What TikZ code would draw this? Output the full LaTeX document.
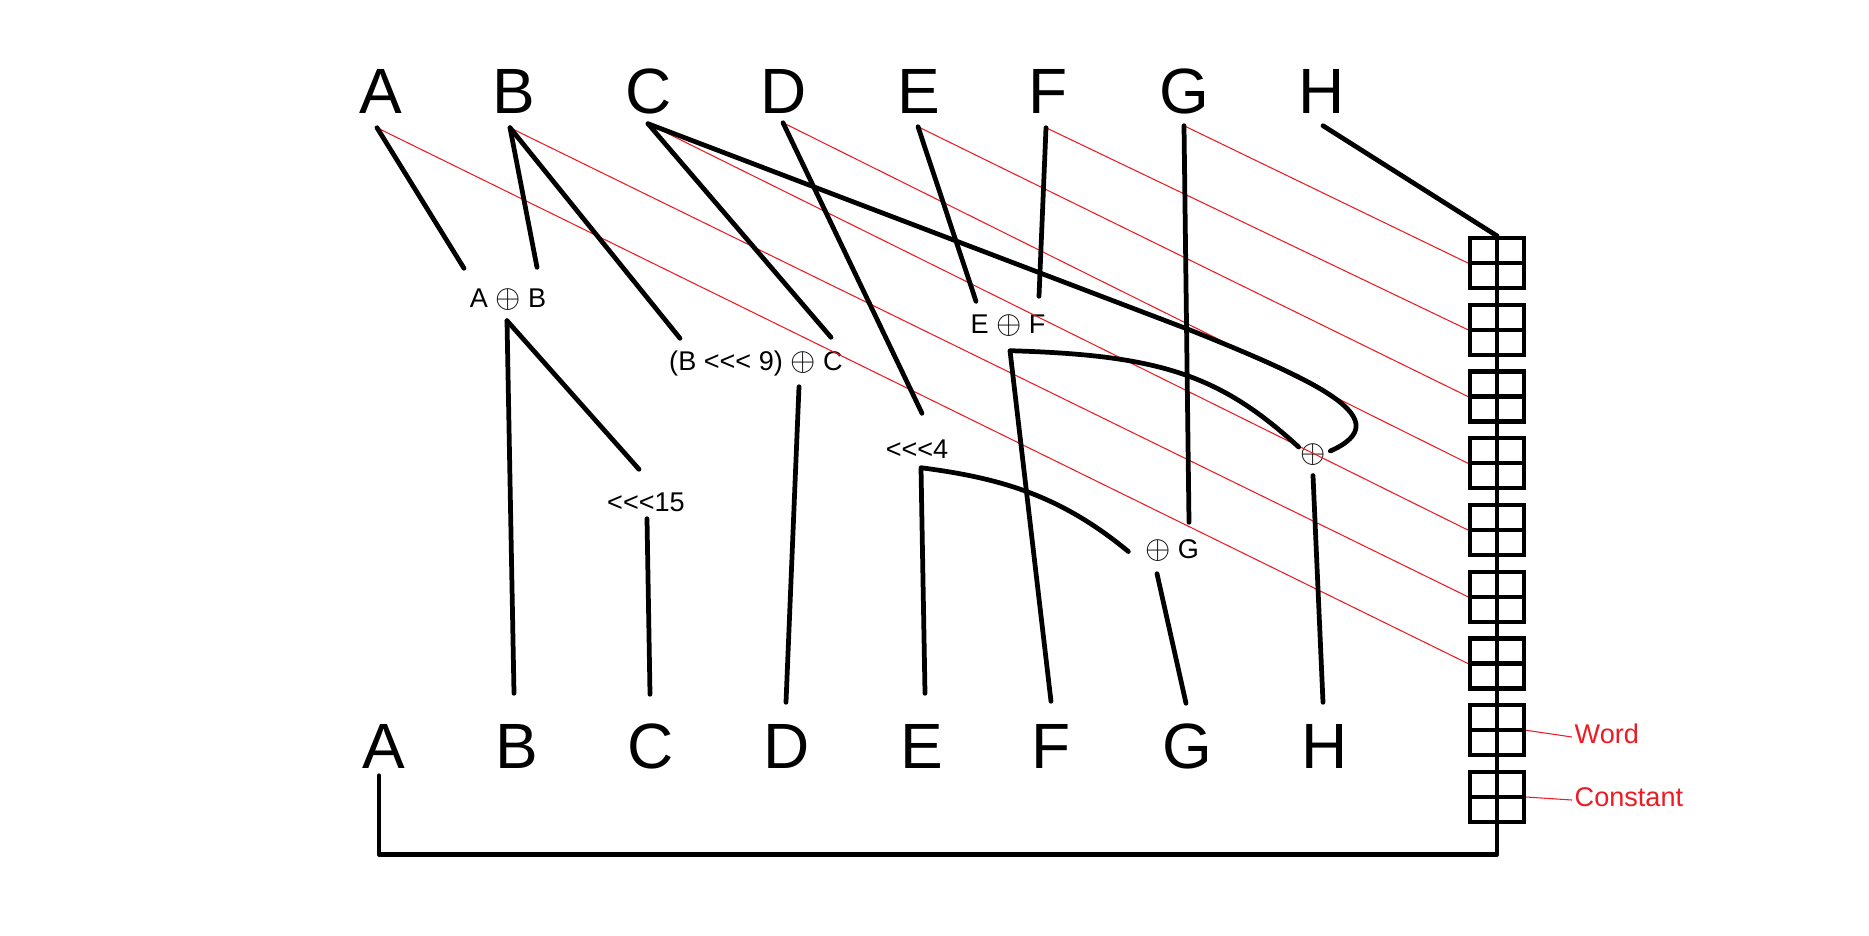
\documentclass[tikz,border=0pt]{standalone}
\usepackage{fontspec}
\setmainfont{Liberation Sans}
\usepackage{tikz}
\usetikzlibrary{calc}
\definecolor{paintred}{RGB}{237,28,36}
\newcommand{\xorsym}{{\fontsize{9.4}{10}\selectfont$\oplus$}}
\newcommand{\rotl}{<\kern0pt<\kern0pt<}

\begin{document}
\begin{tikzpicture}[
  x=0.01cm, y=-0.01cm,
  big/.style={font=\fontsize{18.2}{22}\selectfont, inner sep=0pt, text height=0.46cm, text depth=0pt},
  small/.style={font=\fontsize{7.7}{9}\selectfont, inner sep=0pt, text height=0.19cm, text depth=0.06cm, anchor=base},
  xsym/.style={inner sep=0pt},
  wire/.style={line width=1.35pt, line cap=round, line join=round},
  link/.style={draw=paintred, line width=0.3pt},
  cell/.style={draw, line width=1.2pt, minimum width=0.54cm, minimum height=0.5cm, inner sep=0pt},
]
\useasboundingbox[fill=white] (0,0) rectangle (1869,935);

% Word letters, top and bottom
\foreach \l/\x in {A/381,B/514,C/649,D/784,E/919,F/1048,G/1184,H/1322}
  \node[big] (t\l) at (\x,90) {\l};
\foreach \l/\x in {A/384,B/517,C/651,D/787,E/922,F/1051,G/1187,H/1325}
  \node[big] (b\l) at (\x,745) {\l};

\foreach \l/\dx/\dy in {A/-4/14,B/-4/14,C/-1/10,D/-1/9,E/-1/13,F/-2/14,G/0/12,H/1/12}
  \coordinate (s\l) at ([shift={(\dx,\dy)}]t\l.south);
\foreach \l/\dx/\dy in {B/-3/-28,C/-1/-27,D/-1/-19,E/3/-28,F/0/-20,G/-1/-18,H/-2/-19}
  \coordinate (e\l) at ([shift={(\dx,\dy)}]b\l.north);
\coordinate (eA) at ([shift={(-5,7)}]bA.south);

% Intermediate results
\node[small] (nAB) at (508,307) {A \xorsym{} B};
\node[small] (nBC) at (756,370) {(B \rotl{} 9) \xorsym{} C};
\node[small] (n15) at (646,511) {\rotl15};
\node[small] (n4)  at (917,458) {\rotl4};
\node[small] (nEF) at (1008,333) {E \xorsym{} F};
\node[small] (nG)  at (1172,558) {\xorsym{} G};
\node[xsym]  (nX)  at (1313,455) {\xorsym};

% Register chain
\foreach \i in {1,...,9}
  \node[cell] (w\i) at (1497,{263+66.75*(\i-1)}) {};
\foreach \i in {1,...,9}
  \draw[line width=1.2pt] (w\i.west) -- (w\i.east);
\draw[wire] (eA) |- ([shift={(0,30)}]w9.south) -- (w1.north);

\node[small, text=paintred, anchor=west] (lword)  at (1574,737) {Word};
\node[small, text=paintred, anchor=west] (lconst) at (1574,800) {Constant};
\draw[link] (w8.east) -- ([shift={(-2,0)}]lword.west);
\draw[link] (w9.east) -- ([shift={(-2,0)}]lconst.west);

% Red feeds into the chain
\foreach \l/\i in {A/7,B/6,C/5,D/4,E/3,F/2,G/1}
  \draw[link] (s\l) -- (w\i.west);

% Inputs
\draw[wire] (sA) -- ([shift={(-44,-19)}]nAB.north);
\draw[wire] (sB) -- ([shift={(29,-20)}]nAB.north);
\draw[wire] (sB) -- ([shift={(-76,-12)}]nBC.north);
\draw[wire] (sC) -- ([shift={(75,-13)}]nBC.north);
\draw[wire] (sC) -- (1190,330) .. controls (1320,382) and (1400,420) .. ([shift={(4,-4)}]nX.east);
\draw[wire] (sD) -- ([shift={(5,-25)}]n4.north);
\draw[wire] (sE) -- ([shift={(-32,-12)}]nEF.north);
\draw[wire] (sF) -- ([shift={(31,-17)}]nEF.north);
\draw[wire] (sG) -- ([shift={(17,-16)}]nG.north);
\draw[wire] (sH) -- (w1.north);

% Outputs
\draw[wire] ([shift={(-1,7)}]nAB.south) -- (eB);
\draw[wire] ([shift={(-1,7)}]nAB.south) -- ([shift={(-7,-22)}]n15.north);
\draw[wire] ([shift={(1,1)}]n15.south) -- (eC);
\draw[wire] ([shift={(43,10)}]nBC.south) -- (eD);
\draw[wire] (eE) -- ([shift={(4,3)}]n4.south) .. controls (1000,478) and (1060,495) .. ([shift={(-16,0)}]nG.west);
\draw[wire] (eF) -- ([shift={(2,11)}]nEF.south) .. controls (1160,355) and (1220,375) .. ([shift={(-1,-8)}]nX.west);
\draw[wire] ([shift={(-15,9)}]nG.south) -- (eG);
\draw[wire] ([shift={(0,9)}]nX.south) -- (eH);

\end{tikzpicture}
\end{document}
